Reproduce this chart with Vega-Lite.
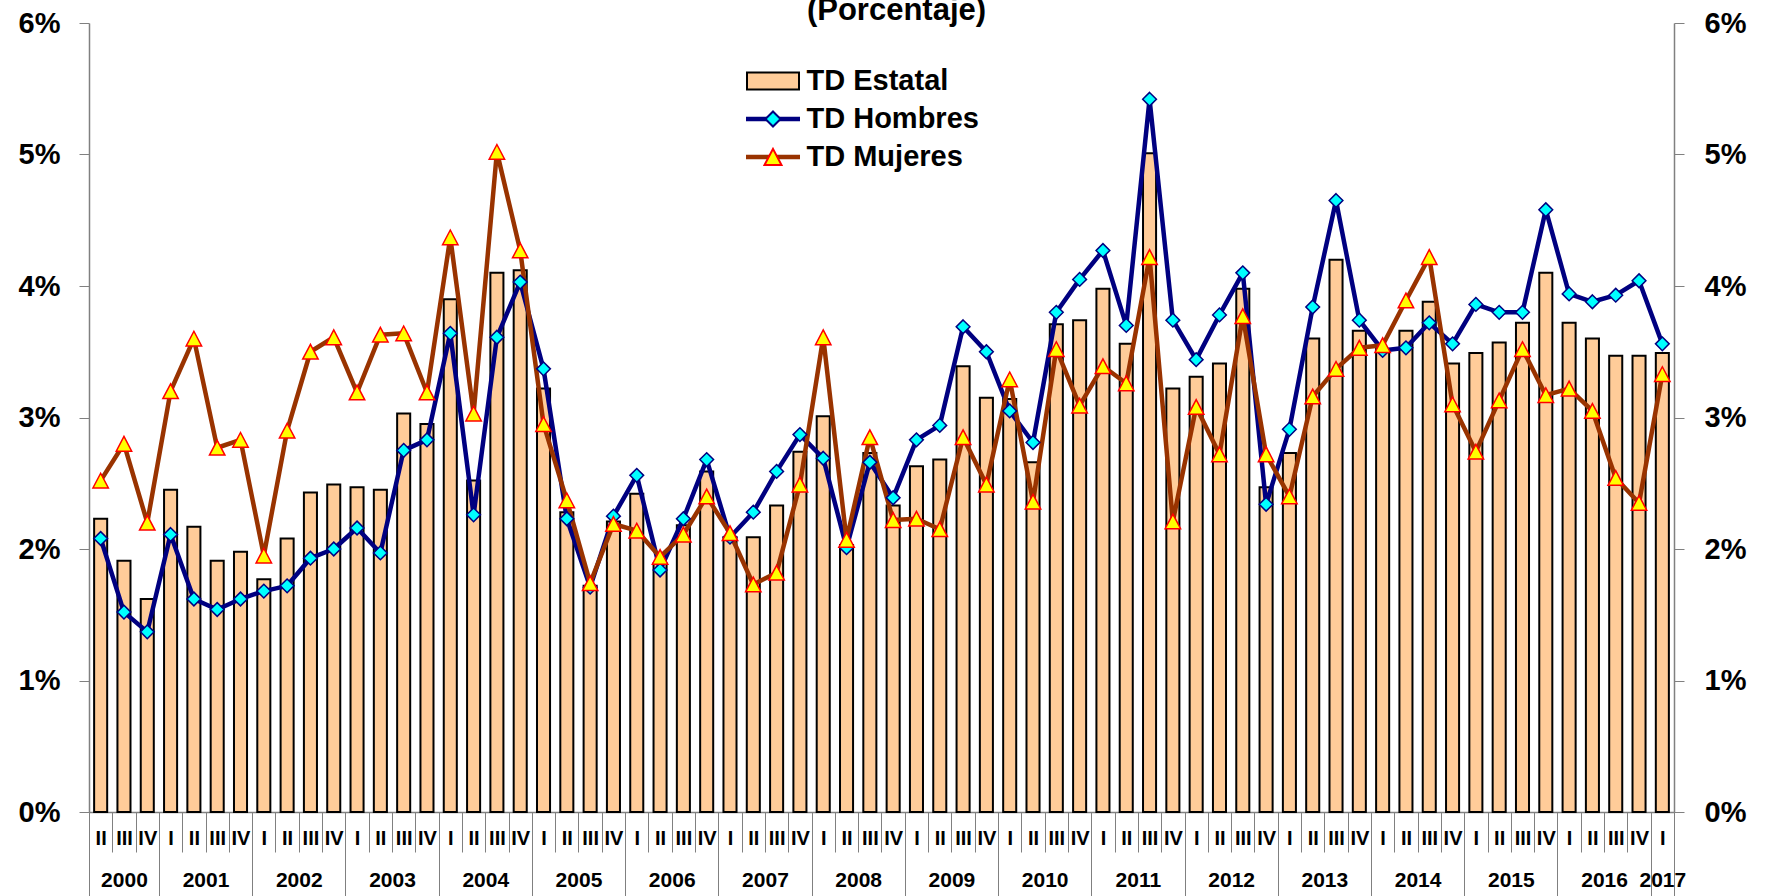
{
  "$schema": "https://vega.github.io/schema/vega-lite/v6.json",
  "width": 1585,
  "height": 789,
  "autosize": {"type": "none"},
  "padding": {"left": 89, "top": 23, "right": 95, "bottom": 84},
  "background": "white",
  "config": {
    "view": {"stroke": null},
    "font": "Liberation Sans",
    "axis": {"grid": false, "domainColor": "#808080", "tickColor": "#808080", "labelColor": "black", "labelFont": "Liberation Sans", "labelFontWeight": "bold"},
    "legend": {"padding": 0}
  },
  "title": {"text": "(Porcentaje)", "fontSize": 31, "fontWeight": "bold", "font": "Liberation Sans", "anchor": "middle", "frame": "group", "baseline": "alphabetic", "offset": 4, "dx": 15, "dy": 46, "color": "black"},
  "data": {"values": [
    {"q": "2000-II", "estatal": 2.23, "hombres": 2.08, "mujeres": 2.52},
    {"q": "2000-III", "estatal": 1.91, "hombres": 1.52, "mujeres": 2.80},
    {"q": "2000-IV", "estatal": 1.62, "hombres": 1.37, "mujeres": 2.20},
    {"q": "2001-I", "estatal": 2.45, "hombres": 2.11, "mujeres": 3.20},
    {"q": "2001-II", "estatal": 2.17, "hombres": 1.62, "mujeres": 3.60},
    {"q": "2001-III", "estatal": 1.91, "hombres": 1.54, "mujeres": 2.77},
    {"q": "2001-IV", "estatal": 1.98, "hombres": 1.62, "mujeres": 2.83},
    {"q": "2002-I", "estatal": 1.77, "hombres": 1.68, "mujeres": 1.95},
    {"q": "2002-II", "estatal": 2.08, "hombres": 1.72, "mujeres": 2.90},
    {"q": "2002-III", "estatal": 2.43, "hombres": 1.93, "mujeres": 3.50},
    {"q": "2002-IV", "estatal": 2.49, "hombres": 2.00, "mujeres": 3.61},
    {"q": "2003-I", "estatal": 2.47, "hombres": 2.16, "mujeres": 3.19},
    {"q": "2003-II", "estatal": 2.45, "hombres": 1.97, "mujeres": 3.63},
    {"q": "2003-III", "estatal": 3.03, "hombres": 2.75, "mujeres": 3.64},
    {"q": "2003-IV", "estatal": 2.95, "hombres": 2.83, "mujeres": 3.19},
    {"q": "2004-I", "estatal": 3.90, "hombres": 3.64, "mujeres": 4.37},
    {"q": "2004-II", "estatal": 2.52, "hombres": 2.26, "mujeres": 3.03},
    {"q": "2004-III", "estatal": 4.10, "hombres": 3.61, "mujeres": 5.02},
    {"q": "2004-IV", "estatal": 4.12, "hombres": 4.03, "mujeres": 4.27},
    {"q": "2005-I", "estatal": 3.22, "hombres": 3.37, "mujeres": 2.95},
    {"q": "2005-II", "estatal": 2.28, "hombres": 2.23, "mujeres": 2.37},
    {"q": "2005-III", "estatal": 1.72, "hombres": 1.71, "mujeres": 1.74},
    {"q": "2005-IV", "estatal": 2.21, "hombres": 2.25, "mujeres": 2.19},
    {"q": "2006-I", "estatal": 2.42, "hombres": 2.56, "mujeres": 2.14},
    {"q": "2006-II", "estatal": 1.89, "hombres": 1.84, "mujeres": 1.94},
    {"q": "2006-III", "estatal": 2.18, "hombres": 2.23, "mujeres": 2.11},
    {"q": "2006-IV", "estatal": 2.59, "hombres": 2.68, "mujeres": 2.40},
    {"q": "2007-I", "estatal": 2.09, "hombres": 2.09, "mujeres": 2.12},
    {"q": "2007-II", "estatal": 2.09, "hombres": 2.28, "mujeres": 1.73},
    {"q": "2007-III", "estatal": 2.33, "hombres": 2.59, "mujeres": 1.82},
    {"q": "2007-IV", "estatal": 2.74, "hombres": 2.87, "mujeres": 2.49},
    {"q": "2008-I", "estatal": 3.01, "hombres": 2.69, "mujeres": 3.61},
    {"q": "2008-II", "estatal": 2.03, "hombres": 2.01, "mujeres": 2.07},
    {"q": "2008-III", "estatal": 2.73, "hombres": 2.66, "mujeres": 2.85},
    {"q": "2008-IV", "estatal": 2.33, "hombres": 2.39, "mujeres": 2.22},
    {"q": "2009-I", "estatal": 2.63, "hombres": 2.83, "mujeres": 2.23},
    {"q": "2009-II", "estatal": 2.68, "hombres": 2.94, "mujeres": 2.15},
    {"q": "2009-III", "estatal": 3.39, "hombres": 3.69, "mujeres": 2.85},
    {"q": "2009-IV", "estatal": 3.15, "hombres": 3.50, "mujeres": 2.49},
    {"q": "2010-I", "estatal": 3.14, "hombres": 3.05, "mujeres": 3.29},
    {"q": "2010-II", "estatal": 2.66, "hombres": 2.81, "mujeres": 2.36},
    {"q": "2010-III", "estatal": 3.71, "hombres": 3.80, "mujeres": 3.52},
    {"q": "2010-IV", "estatal": 3.74, "hombres": 4.05, "mujeres": 3.09},
    {"q": "2011-I", "estatal": 3.98, "hombres": 4.27, "mujeres": 3.39},
    {"q": "2011-II", "estatal": 3.56, "hombres": 3.70, "mujeres": 3.26},
    {"q": "2011-III", "estatal": 5.01, "hombres": 5.42, "mujeres": 4.22},
    {"q": "2011-IV", "estatal": 3.22, "hombres": 3.74, "mujeres": 2.21},
    {"q": "2012-I", "estatal": 3.31, "hombres": 3.44, "mujeres": 3.08},
    {"q": "2012-II", "estatal": 3.41, "hombres": 3.78, "mujeres": 2.72},
    {"q": "2012-III", "estatal": 3.98, "hombres": 4.10, "mujeres": 3.77},
    {"q": "2012-IV", "estatal": 2.47, "hombres": 2.34, "mujeres": 2.72},
    {"q": "2013-I", "estatal": 2.73, "hombres": 2.91, "mujeres": 2.40},
    {"q": "2013-II", "estatal": 3.60, "hombres": 3.84, "mujeres": 3.16},
    {"q": "2013-III", "estatal": 4.20, "hombres": 4.65, "mujeres": 3.37},
    {"q": "2013-IV", "estatal": 3.66, "hombres": 3.74, "mujeres": 3.53},
    {"q": "2014-I", "estatal": 3.52, "hombres": 3.51, "mujeres": 3.55},
    {"q": "2014-II", "estatal": 3.66, "hombres": 3.53, "mujeres": 3.89},
    {"q": "2014-III", "estatal": 3.88, "hombres": 3.72, "mujeres": 4.22},
    {"q": "2014-IV", "estatal": 3.41, "hombres": 3.56, "mujeres": 3.10},
    {"q": "2015-I", "estatal": 3.49, "hombres": 3.86, "mujeres": 2.74},
    {"q": "2015-II", "estatal": 3.57, "hombres": 3.80, "mujeres": 3.13},
    {"q": "2015-III", "estatal": 3.72, "hombres": 3.80, "mujeres": 3.52},
    {"q": "2015-IV", "estatal": 4.10, "hombres": 4.58, "mujeres": 3.17},
    {"q": "2016-I", "estatal": 3.72, "hombres": 3.94, "mujeres": 3.22},
    {"q": "2016-II", "estatal": 3.60, "hombres": 3.88, "mujeres": 3.05},
    {"q": "2016-III", "estatal": 3.47, "hombres": 3.93, "mujeres": 2.54},
    {"q": "2016-IV", "estatal": 3.47, "hombres": 4.04, "mujeres": 2.35},
    {"q": "2017-I", "estatal": 3.49, "hombres": 3.56, "mujeres": 3.33}
  ]},
  "layer": [
    {
      "mark": {"type": "bar", "fill": "#FFCC99", "stroke": "black", "strokeWidth": 2, "width": {"band": 0.56}},
      "encoding": {
        "x": {"field": "q", "type": "nominal",
          "scale": {"paddingInner": 0, "paddingOuter": 0},
          "axis": {"orient": "bottom", "title": null, "tickBand": "extent", "tickSize": 40, "tickWidth": 1, "domainWidth": 1.5,
            "labelExpr": "datum.value ? split(datum.value, '-')[1] : ''",
            "labelAngle": 0, "labelFontSize": 20, "labelBaseline": "middle", "labelPadding": -14, "labelOverlap": false}},
        "y": {"field": "estatal", "type": "quantitative",
          "scale": {"domain": [0, 6], "nice": false},
          "axis": {"orient": "left", "title": null, "values": [0, 1, 2, 3, 4, 5, 6], "labelExpr": "datum.value + '%'",
            "labelFontSize": 29, "tickSize": 10, "labelPadding": 19, "domainWidth": 1.5, "labelBaseline": "middle"}}
      }
    },
    {
      "transform": [{"fold": ["hombres", "mujeres"], "as": ["serie", "v"]}],
      "mark": {"type": "line", "strokeWidth": 4.5, "strokeJoin": "round"},
      "encoding": {
        "x": {"field": "q", "type": "nominal",
          "axis": {"orient": "bottom", "title": null, "tickBand": "extent", "tickSize": 84, "tickWidth": 1, "domain": false,
            "tickOpacity": {"condition": {"test": "datum.extra || (datum.value && (split(datum.value, '-')[1] == 'IV' || datum.value == '2017-I'))", "value": 1}, "value": 0},
            "labelExpr": "!datum.value ? '' : ((datum.value == '2000-III' || datum.value == '2017-I' || (split(datum.value, '-')[1] == 'II' && datum.value != '2000-II')) ? split(datum.value, '-')[0] : '')",
            "labelOffset": {"condition": {"test": "datum.value == '2000-III' || datum.value == '2017-I'", "value": 0}, "value": 11.65},
            "labelAngle": 0, "labelFontSize": 21, "labelBaseline": "middle", "labelPadding": -15.5, "labelOverlap": false}},
        "y": {"field": "v", "type": "quantitative",
          "scale": {"domain": [0, 6], "nice": false},
          "axis": {"orient": "right", "title": null, "values": [0, 1, 2, 3, 4, 5, 6], "labelExpr": "datum.value + '%'",
            "labelFontSize": 29, "tickSize": 10, "labelPadding": 20, "domainWidth": 1.5, "labelBaseline": "middle"}},
        "stroke": {"field": "serie", "type": "nominal",
          "scale": {"domain": ["estatal", "hombres", "mujeres"], "range": ["transparent", "#000080", "#993300"]},
          "legend": {"title": null, "orient": "none", "legendX": 654.5, "legendY": 39, "symbolType": "M-1,0H1", "symbolSize": 2916,
            "symbolStrokeWidth": 4.5, "labelExpr": "''", "labelFontSize": 29, "clipHeight": 38, "rowPadding": 0, "zindex": 0}}
      }
    },
    {
      "transform": [{"fold": ["hombres", "mujeres"], "as": ["serie", "v"]}],
      "mark": {"type": "point", "filled": true, "size": 2400, "strokeWidth": 1.5, "opacity": 1},
      "encoding": {
        "x": {"field": "q", "type": "nominal", "axis": null},
        "y": {"field": "v", "type": "quantitative", "axis": null},
        "shape": {"field": "serie", "type": "nominal",
          "scale": {"domain": ["estatal", "hombres", "mujeres"], "range": ["M-0.963,-0.315H0.963V0.315H-0.963Z", "M0,-0.28L0.28,0L0,0.28L-0.28,0Z", "M0,-0.3L0.315,0.3L-0.315,0.3Z"]},
          "legend": {"title": null, "orient": "none", "legendX": 654.5, "legendY": 39, "symbolSize": 2916, "symbolStrokeWidth": 2, "symbolOffset": 1.5,
            "labelOffset": 5.5, "labelFontSize": 29, "labelFont": "Liberation Sans", "labelFontWeight": "bold", "labelColor": "black", "labelLimit": 400,
            "clipHeight": 38, "rowPadding": 0, "zindex": 1, "symbolOpacity": 1,
            "labelExpr": "'TD ' + upper(slice(datum.label, 0, 1)) + slice(datum.label, 1)"}},
        "fill": {"field": "serie", "type": "nominal",
          "scale": {"domain": ["estatal", "hombres", "mujeres"], "range": ["#FFCC99", "#00FFFF", "#FFFF00"]},
          "legend": {"title": null, "orient": "none", "legendX": 654.5, "legendY": 39, "symbolSize": 2916, "symbolStrokeWidth": 2, "symbolOffset": 1.5,
            "labelOffset": 5.5, "labelFontSize": 29, "labelFont": "Liberation Sans", "labelFontWeight": "bold", "labelColor": "black", "labelLimit": 400,
            "clipHeight": 38, "rowPadding": 0, "zindex": 1, "symbolOpacity": 1,
            "labelExpr": "'TD ' + upper(slice(datum.label, 0, 1)) + slice(datum.label, 1)"}},
        "stroke": {"field": "serie", "type": "nominal",
          "scale": {"domain": ["estatal", "hombres", "mujeres"], "range": ["black", "#000080", "#FF0000"]},
          "legend": {"title": null, "orient": "none", "legendX": 654.5, "legendY": 39, "symbolSize": 2916, "symbolStrokeWidth": 2, "symbolOffset": 1.5,
            "labelOffset": 5.5, "labelFontSize": 29, "labelFont": "Liberation Sans", "labelFontWeight": "bold", "labelColor": "black", "labelLimit": 400,
            "clipHeight": 38, "rowPadding": 0, "zindex": 1, "symbolOpacity": 1,
            "labelExpr": "'TD ' + upper(slice(datum.label, 0, 1)) + slice(datum.label, 1)"}}
      }
    }
  ],
  "resolve": {
    "scale": {"stroke": "independent", "fill": "independent", "shape": "independent"},
    "axis": {"x": "independent", "y": "independent"}
  }
}
